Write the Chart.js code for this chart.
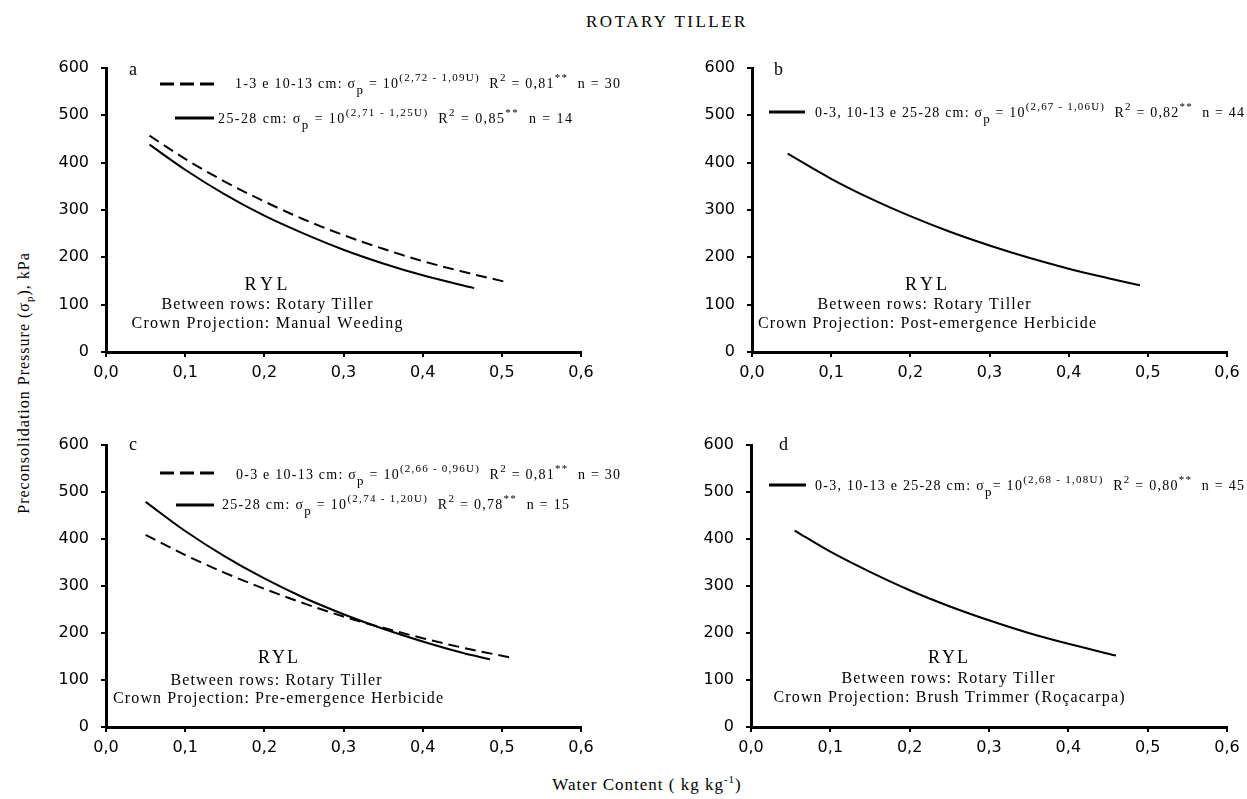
<!DOCTYPE html>
<html>
<head>
<meta charset="utf-8">
<script src="https://cdn.jsdelivr.net/npm/chart.js@4.4.1/dist/chart.umd.min.js"></script>
<style>
    html, body { margin: 0; padding: 0; background: #fff; }
    #page { position: relative; width: 1247px; height: 799px; overflow: hidden; font-family: "Liberation Serif", "Times New Roman", serif; color: #000; }
    #page canvas { position: absolute; left: 0; top: 0; }
    .title { position: absolute; left: 467px; width: 400px; top: 13px; text-align: center; font-size: 17px; line-height: 17px; letter-spacing: 2.5px; }
    .xlabel { position: absolute; left: 447px; width: 400px; top: 776px; text-align: center; font-size: 17px; line-height: 17px; letter-spacing: 1px; }
    .ylabel { position: absolute; left: -176px; top: 374px; width: 400px; height: 18px; line-height: 18px; text-align: center; font-size: 16px; letter-spacing: 1px; transform: rotate(-90deg); }
    sup, sub { font-size: 11px; line-height: 0; }
</style>
</head>
<body>
<div id="page">
    <div class="title">ROTARY TILLER</div>
    <div class="ylabel">Preconsolidation Pressure (σ<sub>p</sub>), kPa</div>
    <div class="xlabel">Water Content ( kg kg<sup>-1</sup>)</div>
    <canvas id="panelA" width="1247" height="799"></canvas>
    <canvas id="panelB" width="1247" height="799"></canvas>
    <canvas id="panelC" width="1247" height="799"></canvas>
    <canvas id="panelD" width="1247" height="799"></canvas>
</div>
<script>
// values (water content, kg/kg -> kPa)
const waterA1 = [0.055, 0.1, 0.15, 0.2, 0.25, 0.3, 0.35, 0.4, 0.45, 0.505];
const pressureA1 = [457, 408, 360, 318, 280, 247, 218, 192, 170, 148];
const waterA2 = [0.055, 0.1, 0.15, 0.2, 0.25, 0.3, 0.35, 0.4, 0.465];
const pressureA2 = [438, 385, 333, 288, 250, 216, 187, 162, 135];

const waterB = [0.045, 0.1, 0.15, 0.2, 0.25, 0.3, 0.35, 0.4, 0.45, 0.49];
const pressureB = [419, 366, 324, 287, 254, 225, 199, 176, 156, 141];

const waterC1 = [0.05, 0.1, 0.15, 0.2, 0.25, 0.3, 0.35, 0.4, 0.45, 0.51];
const pressureC1 = [409, 366, 328, 294, 263, 235, 211, 189, 169, 148];
const waterC2 = [0.05, 0.1, 0.15, 0.2, 0.25, 0.3, 0.35, 0.4, 0.45, 0.485];
const pressureC2 = [479, 417, 363, 316, 275, 240, 209, 182, 158, 144];

const waterD = [0.055, 0.1, 0.15, 0.2, 0.25, 0.3, 0.35, 0.4, 0.46];
const pressureD = [418, 373, 330, 291, 257, 227, 200, 177, 152];

const xTickValues = [0, 0.1, 0.2, 0.3, 0.4, 0.5, 0.6];
const xTickLabels = ['0,0', '0,1', '0,2', '0,3', '0,4', '0,5', '0,6'];
const yTickValues = [0, 100, 200, 300, 400, 500, 600];
const yTickLabels = ['0', '100', '200', '300', '400', '500', '600'];

// legend equations: [text, 'sub' | 'sup' | '']
const legendA1 = [['1-3 e 10-13 cm: σ', ''], ['p', 'sub'], [' = 10', ''], ['(2,72 - 1,09U)', 'sup'], ['  R', ''], ['2', 'sup'], [' = 0,81', ''], ['**', 'sup'], ['  n = 30', '']];
const legendA2 = [['25-28 cm: σ', ''], ['p', 'sub'], [' = 10', ''], ['(2,71 - 1,25U)', 'sup'], ['  R', ''], ['2', 'sup'], [' = 0,85', ''], ['**', 'sup'], ['  n = 14', '']];
const legendB = [['0-3, 10-13 e 25-28 cm: σ', ''], ['p', 'sub'], [' = 10', ''], ['(2,67 - 1,06U)', 'sup'], ['  R', ''], ['2', 'sup'], [' = 0,82', ''], ['**', 'sup'], ['  n = 44', '']];
const legendC1 = [['0-3 e 10-13 cm: σ', ''], ['p', 'sub'], [' = 10', ''], ['(2,66 - 0,96U)', 'sup'], ['  R', ''], ['2', 'sup'], [' = 0,81', ''], ['**', 'sup'], ['  n = 30', '']];
const legendC2 = [['25-28 cm: σ', ''], ['p', 'sub'], [' = 10', ''], ['(2,74 - 1,20U)', 'sup'], ['  R', ''], ['2', 'sup'], [' = 0,78', ''], ['**', 'sup'], ['  n = 15', '']];
const legendD = [['0-3, 10-13 e 25-28 cm: σ', ''], ['p', 'sub'], ['= 10', ''], ['(2,68 - 1,08U)', 'sup'], ['  R', ''], ['2', 'sup'], [' = 0,80', ''], ['**', 'sup'], ['  n = 45', '']];

const soilLabel = 'RYL';
const betweenRows = 'Between rows: Rotary Tiller';
const crownA = 'Crown Projection: Manual Weeding';
const crownB = 'Crown Projection: Post-emergence Herbicide';
const crownC = 'Crown Projection: Pre-emergence Herbicide';
const crownD = 'Crown Projection: Brush Trimmer (Roçacarpa)';

const PAGE_W = 1247, PAGE_H = 799;
const Y_AXIS_W = 60, X_AXIS_H = 40;
const SERIF = '"Liberation Serif", "Times New Roman", serif';

// draws text char by char, spread to a given width (the source uses loose spacing)
function drawSpaced(ctx, parts, x, y, width, size) {
    const fontFor = kind => (kind === 'sub' ? Math.round(size * 0.9) : kind ? Math.round(size * 0.8) : size) + 'px ' + SERIF;
    let natural = 0, count = 0;
    parts.forEach(([text, kind]) => {
        ctx.font = fontFor(kind);
        for (const ch of text) { natural += ctx.measureText(ch).width; count++; }
    });
    const spacing = count > 1 ? (width - natural) / (count - 1) : 0;
    let cx = x;
    parts.forEach(([text, kind]) => {
        ctx.font = fontFor(kind);
        const dy = kind === 'sup' ? -size * 0.5 : kind === 'sub' ? size * 0.4 : 0;
        for (const ch of text) {
            ctx.fillText(ch, cx, y + dy);
            cx += ctx.measureText(ch).width + spacing;
        }
    });
}

function notesPlugin(panel) {
    return {
        id: 'panelNotes',
        afterDraw(chart) {
            const { ctx } = chart;
            const { left, top } = chart.chartArea;
            ctx.save();
            ctx.fillStyle = '#000';
            ctx.textAlign = 'left';
            ctx.textBaseline = 'alphabetic';
            ctx.font = '18px ' + SERIF;
            ctx.fillText(panel.letter, left + panel.letterAt[0], top + panel.letterAt[1]);

            panel.legend.forEach(row => {
                ctx.beginPath();
                ctx.lineWidth = 3;
                ctx.strokeStyle = '#000';
                ctx.setLineDash(row.dashed ? [14, 6] : []);
                ctx.moveTo(left + row.line[0], top + row.line[2]);
                ctx.lineTo(left + row.line[1], top + row.line[2]);
                ctx.stroke();
                ctx.setLineDash([]);
                drawSpaced(ctx, row.parts, left + row.text[0], top + row.text[1], row.text[2], 14);
            });

            panel.notes.forEach(n => {
                drawSpaced(ctx, [[n.text, '']], left + n.at[0] - n.at[2] / 2, top + n.at[1], n.at[2], n.size);
            });
            ctx.restore();
        }
    };
}

function series(water, pressure, dashed) {
    return {
        data: water.map((x, i) => ({ x: x, y: pressure[i] })),
        borderColor: '#000',
        borderWidth: 2,
        borderDash: dashed ? [11, 6] : [],
        pointRadius: 0,
        cubicInterpolationMode: 'monotone',
        fill: false
    };
}

function scaleOptions(values, labels, padding) {
    return {
        type: 'linear',
        min: values[0],
        max: values[values.length - 1],
        afterBuildTicks: scale => { scale.ticks = values.map(v => ({ value: v })); },
        ticks: {
            callback: (value, index) => labels[index],
            font: { family: 'DejaVu Sans', size: 16 },
            color: '#000',
            padding: padding,
            maxRotation: 0,
            autoSkip: false
        },
        grid: { drawOnChartArea: false, drawTicks: true, tickLength: 5, color: '#000', lineWidth: 2 },
        border: { display: true, color: '#000', width: 3 }
    };
}

const panels = [
    {
        canvas: 'panelA', area: { left: 106, right: 581, top: 68, bottom: 352 },
        datasets: [series(waterA1, pressureA1, true), series(waterA2, pressureA2, false)],
        letter: 'a', letterAt: [23, 7],
        legend: [
            { dashed: true, line: [54, 108, 16], text: [129, 20, 385], parts: legendA1 },
            { dashed: false, line: [69, 108, 50], text: [112, 55, 354], parts: legendA2 }
        ],
        notes: [
            { text: soilLabel, at: [160, 222, 43], size: 18 },
            { text: betweenRows, at: [161, 241, 211], size: 16 },
            { text: crownA, at: [161, 260, 271], size: 16 }
        ]
    },
    {
        canvas: 'panelB', area: { left: 752, right: 1227, top: 68, bottom: 352 },
        datasets: [series(waterB, pressureB, false)],
        letter: 'b', letterAt: [22, 7],
        legend: [
            { dashed: false, line: [17, 53, 44], text: [63, 49, 429], parts: legendB }
        ],
        notes: [
            { text: soilLabel, at: [174, 222, 42], size: 18 },
            { text: betweenRows, at: [172, 241, 213], size: 16 },
            { text: crownB, at: [175, 260, 338], size: 16 }
        ]
    },
    {
        canvas: 'panelC', area: { left: 106, right: 581, top: 445, bottom: 727 },
        datasets: [series(waterC1, pressureC1, true), series(waterC2, pressureC2, false)],
        letter: 'c', letterAt: [23, 5],
        legend: [
            { dashed: true, line: [54, 108, 28], text: [130, 34, 384], parts: legendC1 },
            { dashed: false, line: [70, 108, 60], text: [116, 64, 347], parts: legendC2 }
        ],
        notes: [
            { text: soilLabel, at: [172, 218, 40], size: 18 },
            { text: betweenRows, at: [170, 240, 211], size: 16 },
            { text: crownC, at: [172, 258, 330], size: 16 }
        ]
    },
    {
        canvas: 'panelD', area: { left: 751, right: 1227, top: 445, bottom: 727 },
        datasets: [series(waterD, pressureD, false)],
        letter: 'd', letterAt: [28, 5],
        legend: [
            { dashed: false, line: [18, 55, 40], text: [64, 45, 429], parts: legendD }
        ],
        notes: [
            { text: soilLabel, at: [197, 218, 40], size: 18 },
            { text: betweenRows, at: [197, 238, 213], size: 16 },
            { text: crownD, at: [198, 257, 351], size: 16 }
        ]
    }
];

panels.forEach(panel => {
    const a = panel.area;
    const xScale = scaleOptions(xTickValues, xTickLabels, 6);
    xScale.afterFit = scale => { scale.height = X_AXIS_H; };
    const yScale = scaleOptions(yTickValues, yTickLabels, 12);
    yScale.afterFit = scale => { scale.width = Y_AXIS_W; };

    new Chart(document.getElementById(panel.canvas), {
        type: 'line',
        data: { datasets: panel.datasets },
        options: {
            responsive: false,
            animation: false,
            devicePixelRatio: 1,
            layout: {
                padding: {
                    left: a.left - Y_AXIS_W,
                    right: PAGE_W - a.right,
                    top: a.top,
                    bottom: PAGE_H - a.bottom - X_AXIS_H
                }
            },
            plugins: { legend: { display: false }, tooltip: { enabled: false } },
            scales: { x: xScale, y: yScale }
        },
        plugins: [notesPlugin(panel)]
    });
});
</script>
</body>
</html>
